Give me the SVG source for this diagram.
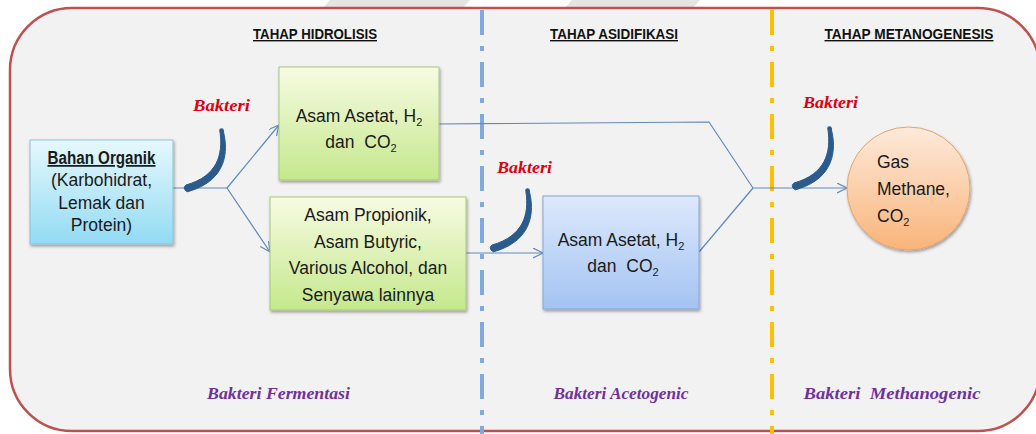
<svg xmlns="http://www.w3.org/2000/svg" width="1036" height="434" viewBox="0 0 1036 434">
<defs>
<style>
.hdr{font-family:"Liberation Sans",Arial,sans-serif;font-weight:bold;font-size:14px;fill:#111;text-anchor:middle;text-decoration:underline}
.box{font-family:"Liberation Sans",Arial,sans-serif;font-size:17.5px;fill:#1a1a1a;text-anchor:middle}
.bak{font-family:"Liberation Serif","Times New Roman",serif;font-weight:bold;font-style:italic;font-size:17px;fill:#e0000f}
.grp{font-family:"Liberation Serif","Times New Roman",serif;font-weight:bold;font-style:italic;font-size:17px;fill:#7030a0;text-anchor:middle}
.con{fill:none;stroke:#5f88bf;stroke-width:1.2}
.sub{font-size:11px}
</style>
<linearGradient id="gCyan" x1="0" y1="0" x2="0" y2="1"><stop offset="0" stop-color="#e6f8fd"/><stop offset="1" stop-color="#92dbf3"/></linearGradient>
<linearGradient id="gGreen" x1="0" y1="0" x2="0" y2="1"><stop offset="0" stop-color="#f7fbe2"/><stop offset="1" stop-color="#c5e88c"/></linearGradient>
<linearGradient id="gBlue" x1="0" y1="0" x2="0" y2="1"><stop offset="0" stop-color="#dde9fb"/><stop offset="1" stop-color="#a4c3f3"/></linearGradient>
<linearGradient id="gOrange" x1="0" y1="0" x2="0" y2="1"><stop offset="0" stop-color="#fdeadb"/><stop offset="1" stop-color="#f9b47a"/></linearGradient>
<filter id="sh" x="-10%" y="-10%" width="125%" height="130%"><feDropShadow dx="1" dy="2" stdDeviation="1.5" flood-color="#000" flood-opacity="0.35"/></filter>
<marker id="arr" markerUnits="userSpaceOnUse" markerWidth="12" markerHeight="12" refX="10" refY="5" orient="auto" viewBox="0 0 12 12"><path d="M0,0 L10,5 L0,10" fill="none" stroke="#5f88bf" stroke-width="1.2"/></marker>
<g id="curl" fill="#2b5a8c" stroke="#2b5a8c" stroke-linejoin="round">
<path d="M1,0 C7,22 4,50 -32,61 A3.5,3.5 0 0 1 -36,55 C-4,46 1,24 -2,2 Q-1,-1 1,0 Z" stroke-width="1"/>
<circle cx="-0.5" cy="0.5" r="2.3" stroke="none"/>
</g>
</defs>
<rect width="1036" height="434" fill="#ffffff"/>
<polygon points="330,0 470,0 462,9 322,9" fill="#e4e4e4"/>
<polygon points="572,0 700,0 692,9 564,9" fill="#e4e4e4"/>
<rect x="10" y="8" width="1030" height="423" rx="62" ry="62" fill="#f2f2f2" stroke="#c0504d" stroke-width="2.5"/>
<g id="dividers">
<line x1="482" y1="10" x2="482" y2="434" stroke="#80a9de" stroke-width="4" stroke-dasharray="25 11 5 11"/>
<line x1="772" y1="10" x2="772" y2="434" stroke="#ffc000" stroke-width="4" stroke-dasharray="25 11 5 11"/>
</g>
<g id="headers">
<text class="hdr" x="315" y="39" textLength="124" lengthAdjust="spacingAndGlyphs">TAHAP HIDROLISIS</text>
<text class="hdr" x="614" y="39" textLength="128" lengthAdjust="spacingAndGlyphs">TAHAP ASIDIFIKASI</text>
<text class="hdr" x="909" y="39" textLength="169" lengthAdjust="spacingAndGlyphs">TAHAP METANOGENESIS</text>
</g>
<g id="connectors">
<polyline class="con" points="173,188 227,188"/>
<line class="con" x1="227" y1="188" x2="279" y2="125" marker-end="url(#arr)"/>
<line class="con" x1="227" y1="188" x2="270" y2="252" marker-end="url(#arr)"/>
<polyline class="con" points="439,124 709,122 753,188"/>
<line class="con" x1="466" y1="253" x2="543" y2="253" marker-end="url(#arr)"/>
<line class="con" x1="699" y1="252" x2="753" y2="188"/>
<line class="con" x1="753" y1="188" x2="847" y2="188" marker-end="url(#arr)"/>
</g>
<g id="node-bahan">
<rect x="30" y="140" width="143" height="104" fill="url(#gCyan)" stroke="#8fc0d6" stroke-width="1" filter="url(#sh)"/>
<text class="box" x="101.5" y="164" font-weight="bold" font-size="16" text-decoration="underline" textLength="108" lengthAdjust="spacingAndGlyphs">Bahan Organik</text>
<text class="box" x="101.5" y="186" font-size="17">(Karbohidrat,</text>
<text class="box" x="101.5" y="209" font-size="17">Lemak dan</text>
<text class="box" x="101.5" y="231" font-size="17">Protein)</text>
</g>
<g id="node-asetat1">
<rect x="279" y="67" width="160" height="113" fill="url(#gGreen)" stroke="#a9c77c" stroke-width="1" filter="url(#sh)"/>
<text class="box" x="359" y="122">Asam Asetat, H<tspan class="sub" dy="4">2</tspan></text>
<text class="box" x="361" y="148">dan&#160; CO<tspan class="sub" dy="4">2</tspan></text>
</g>
<g id="node-propionik">
<rect x="270" y="197" width="196" height="113" fill="url(#gGreen)" stroke="#a9c77c" stroke-width="1" filter="url(#sh)"/>
<text class="box" x="368" y="221">Asam Propionik,</text>
<text class="box" x="368" y="248">Asam Butyric,</text>
<text class="box" x="368" y="274">Various Alcohol, dan</text>
<text class="box" x="368" y="301">Senyawa lainnya</text>
</g>
<g id="node-asetat2">
<rect x="543" y="196" width="156" height="113" fill="url(#gBlue)" stroke="#86a6d6" stroke-width="1" filter="url(#sh)"/>
<text class="box" x="621" y="246">Asam Asetat, H<tspan class="sub" dy="4">2</tspan></text>
<text class="box" x="623" y="272">dan&#160; CO<tspan class="sub" dy="4">2</tspan></text>
</g>
<g id="node-gas">
<circle cx="908.5" cy="188.5" r="61.5" fill="url(#gOrange)" stroke="#e3a46c" stroke-width="1" filter="url(#sh)"/>
<text class="box" x="877" y="168" style="text-anchor:start">Gas</text>
<text class="box" x="877" y="195" style="text-anchor:start">Methane,</text>
<text class="box" x="877" y="222" style="text-anchor:start">CO<tspan class="sub" dy="4">2</tspan></text>
</g>
<g id="bakteri-arrows">
<use href="#curl" transform="translate(222,130)"/>
<use href="#curl" transform="translate(528,190)"/>
<use href="#curl" transform="translate(830,128)"/>
<text class="bak" x="193" y="111" textLength="57" lengthAdjust="spacingAndGlyphs">Bakteri</text>
<text class="bak" x="497" y="173" textLength="55" lengthAdjust="spacingAndGlyphs">Bakteri</text>
<text class="bak" x="803" y="108" textLength="55" lengthAdjust="spacingAndGlyphs">Bakteri</text>
</g>
<g id="group-labels">
<text class="grp" x="278.5" y="399" textLength="143" lengthAdjust="spacingAndGlyphs">Bakteri Fermentasi</text>
<text class="grp" x="621" y="399" textLength="135" lengthAdjust="spacingAndGlyphs">Bakteri Acetogenic</text>
<text class="grp" x="892" y="399" textLength="177" lengthAdjust="spacingAndGlyphs">Bakteri&#160; Methanogenic</text>
</g>
</svg>
